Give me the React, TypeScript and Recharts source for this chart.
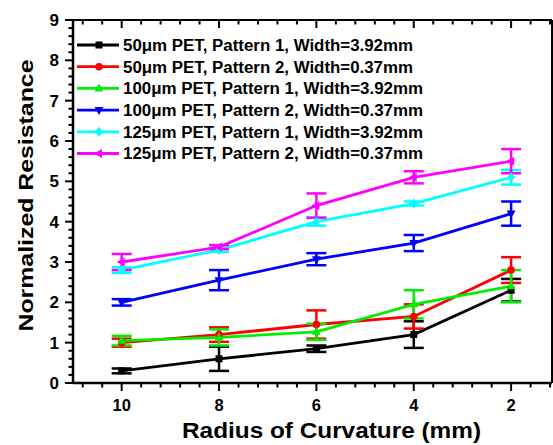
import { LineChart, Line, XAxis, YAxis, ErrorBar, Legend } from "recharts";

const FONT = '"Liberation Sans", Arial, Helvetica, sans-serif';

// radius of curvature (mm)
const radius = [10, 8, 6, 4, 2];

// normalized resistance + error per series
const pet50p1 = [0.3, 0.6, 0.85, 1.2, 2.3];
const pet50p1Err = [0.06, 0.3, 0.08, 0.33, 0.28];
const pet50p2 = [1.0, 1.2, 1.45, 1.65, 2.8];
const pet50p2Err = [0.1, 0.18, 0.35, 0.3, 0.32];
const pet100p1 = [1.05, 1.13, 1.27, 1.95, 2.4];
const pet100p1Err = [0.12, 0.2, 0.2, 0.35, 0.4];
const pet100p2 = [2.0, 2.55, 3.07, 3.47, 4.2];
const pet100p2Err = [0.08, 0.25, 0.15, 0.2, 0.3];
const pet125p1 = [2.8, 3.3, 4.0, 4.45, 5.1];
const pet125p1Err = [0.07, 0.05, 0.1, 0.05, 0.18];
const pet125p2 = [3.0, 3.37, 4.4, 5.1, 5.5];
const pet125p2Err = [0.2, 0.05, 0.3, 0.15, 0.3];

const xMajor = [10, 8, 6, 4, 2];
const yMajor = [0, 1, 2, 3, 4, 5, 6, 7, 8, 9];

// minor ticks: every 0.4 on x, every 0.2 on y
const xTicks: number[] = [];
for (let k = 3; k <= 27; k++) xTicks.push(Math.round(k * 4) / 10);
const yTicks: number[] = [];
for (let k = 0; k <= 45; k++) yTicks.push(Math.round(k * 2) / 10);

type Shape = "square" | "circle" | "up" | "down" | "diamond" | "left";

const series = [
  { name: "50\u03bcm PET, Pattern 1, Width=3.92mm", color: "#000000", shape: "square" as Shape, y: pet50p1, e: pet50p1Err },
  { name: "50\u03bcm PET, Pattern 2, Width=0.37mm", color: "#ff0000", shape: "circle" as Shape, y: pet50p2, e: pet50p2Err },
  { name: "100\u03bcm PET, Pattern 1, Width=3.92mm", color: "#00ee00", shape: "up" as Shape, y: pet100p1, e: pet100p1Err },
  { name: "100\u03bcm PET, Pattern 2, Width=0.37mm", color: "#0000ff", shape: "down" as Shape, y: pet100p2, e: pet100p2Err },
  { name: "125\u03bcm PET, Pattern 1, Width=3.92mm", color: "#00ffff", shape: "diamond" as Shape, y: pet125p1, e: pet125p1Err },
  { name: "125\u03bcm PET, Pattern 2, Width=0.37mm", color: "#ff00ff", shape: "left" as Shape, y: pet125p2, e: pet125p2Err },
];

const X_DOMAIN: [number, number] = [1.16, 11];

function marker(shape: Shape, cx: number, cy: number, color: string, key?: any) {
  const s = 4;
  switch (shape) {
    case "square":
      return <rect key={key} x={cx - 3.5} y={cy - 3.5} width={7} height={7} fill={color} />;
    case "circle":
      return <circle key={key} cx={cx} cy={cy} r={3.8} fill={color} />;
    case "up":
      return <polygon key={key} points={`${cx},${cy - s - 1} ${cx - s - 0.5},${cy + s - 1} ${cx + s + 0.5},${cy + s - 1}`} fill={color} />;
    case "down":
      return <polygon key={key} points={`${cx},${cy + s + 1} ${cx - s - 0.5},${cy - s + 1} ${cx + s + 0.5},${cy - s + 1}`} fill={color} />;
    case "diamond":
      return <polygon key={key} points={`${cx},${cy - s - 1} ${cx + s},${cy} ${cx},${cy + s + 1} ${cx - s},${cy}`} fill={color} />;
    default:
      return <polygon key={key} points={`${cx - s - 1},${cy} ${cx + s - 1},${cy - s - 0.5} ${cx + s - 1},${cy + s + 0.5}`} fill={color} />;
  }
}

const isMajor = (v: number, majors: number[]) => majors.some((m) => Math.abs(m - v) < 1e-6);

function BottomTick({ x, y, payload }: any) {
  const major = isMajor(payload.value, xMajor);
  return (
    <g>
      <line x1={x} x2={x} y1={y} y2={y + (major ? 8 : 4.5)} stroke="#000" strokeWidth={2} />
      {major && (
        <text x={x} y={y + 28} textAnchor="middle" fontFamily={FONT} fontWeight="bold" fontSize={16.5} fill="#000">
          {payload.value}
        </text>
      )}
    </g>
  );
}

function TopTick({ x, y, payload }: any) {
  const major = isMajor(payload.value, xMajor);
  return <line x1={x} x2={x} y1={y} y2={y + (major ? 8 : 4.5)} stroke="#000" strokeWidth={2} />;
}

function LeftTick({ x, y, payload }: any) {
  const major = isMajor(payload.value, yMajor);
  return (
    <g>
      <line x1={x - (major ? 8 : 4.5)} x2={x} y1={y} y2={y} stroke="#000" strokeWidth={2} />
      {major && (
        <text x={x - 14} y={y + 6} textAnchor="end" fontFamily={FONT} fontWeight="bold" fontSize={17} fill="#000">
          {payload.value}
        </text>
      )}
    </g>
  );
}

function RightTick({ x, y, payload }: any) {
  const major = isMajor(payload.value, yMajor);
  if (!major) return <g />;
  return <line x1={x - 3} x2={x} y1={y} y2={y} stroke="#000" strokeWidth={1.5} />;
}

function LegendBox() {
  return (
    <svg width={400} height={140} style={{ display: "block" }}>
      {series.map((s, i) => {
        const cy = 8 + i * 21.7;
        return (
          <g key={s.name}>
            <line x1={0} x2={42} y1={cy} y2={cy} stroke={s.color} strokeWidth={2.8} />
            {marker(s.shape, 22, cy, s.color)}
            <text
              x={46}
              y={cy + 5.8}
              fontFamily={FONT}
              fontWeight="bold"
              fontSize={16}
              fill="#000"
              textLength={s.name.startsWith("1") ? 300 : 290}
              lengthAdjust="spacingAndGlyphs"
            >
              {s.name}
            </text>
          </g>
        );
      })}
    </svg>
  );
}

export default function App() {
  return (
    <div style={{ position: "absolute", left: 0, top: 0, background: "#fff" }}>
      <LineChart width={553} height={445} margin={{ top: 19, right: 0, bottom: 0, left: 0 }}>
        <XAxis
          xAxisId="main"
          type="number"
          dataKey="x"
          domain={X_DOMAIN}
          reversed
          ticks={xTicks}
          interval={0}
          tickSize={0}
          tickMargin={0}
          tickLine={false}
          tick={<BottomTick />}
          height={62}
          axisLine={{ stroke: "#000", strokeWidth: 2.5 }}
          allowDataOverflow
          label={{
            content: ({ viewBox }: any) => (
              <text
                x={viewBox.x + viewBox.width / 2 + 19}
                y={viewBox.y + 55}
                textAnchor="middle"
                fontFamily={FONT}
                fontWeight="bold"
                fontSize={22}
                fill="#000"
                textLength={299}
                lengthAdjust="spacingAndGlyphs"
              >
                Radius of Curvature (mm)
              </text>
            ),
          }}
        />
        <XAxis
          xAxisId="top"
          orientation="top"
          type="number"
          dataKey="x"
          domain={X_DOMAIN}
          reversed
          ticks={xTicks}
          interval={0}
          tickSize={0}
          tickMargin={0}
          tickLine={false}
          tick={<TopTick />}
          height={1}
          axisLine={{ stroke: "#000", strokeWidth: 2 }}
          allowDataOverflow
        />
        <YAxis
          yAxisId="main"
          type="number"
          domain={[0, 9]}
          ticks={yTicks}
          interval={0}
          tickSize={0}
          tickMargin={0}
          tickLine={false}
          tick={<LeftTick />}
          width={73}
          axisLine={{ stroke: "#000", strokeWidth: 2.5 }}
          label={{
            content: ({ viewBox }: any) => {
              const cy = viewBox.y + viewBox.height / 2 - 6;
              return (
                <text
                  x={25}
                  y={cy}
                  transform={`rotate(-90, 25, ${cy})`}
                  textAnchor="middle"
                  dominantBaseline="central"
                  fontFamily={FONT}
                  fontWeight="bold"
                  fontSize={21}
                  fill="#000"
                  textLength={272}
                  lengthAdjust="spacingAndGlyphs"
                >
                  Normalized Resistance
                </text>
              );
            },
          }}
        />
        <YAxis
          yAxisId="right"
          orientation="right"
          type="number"
          domain={[0, 9]}
          ticks={yMajor}
          interval={0}
          tickSize={0}
          tickMargin={0}
          tickLine={false}
          tick={<RightTick />}
          width={1}
          axisLine={{ stroke: "#000", strokeWidth: 2 }}
        />
        <Legend
          layout="vertical"
          align="center"
          verticalAlign="middle"
          wrapperStyle={{ left: 77, top: 37, width: 400, height: 140 }}
          content={() => <LegendBox />}
        />
        {series.map((s) => (
          <Line
            key={s.name}
            xAxisId="main"
            yAxisId="main"
            name={s.name}
            data={radius.map((x, i) => ({ x, y: s.y[i], e: s.e[i] }))}
            dataKey="y"
            type="linear"
            stroke={s.color}
            strokeWidth={2.8}
            isAnimationActive={false}
            dot={(p: any) => marker(s.shape, p.cx, p.cy, s.color, p.index)}
            activeDot={false}
          >
            <ErrorBar dataKey="e" direction="y" width={10} strokeWidth={2.5} stroke={s.color} />
          </Line>
        ))}
      </LineChart>
    </div>
  );
}
